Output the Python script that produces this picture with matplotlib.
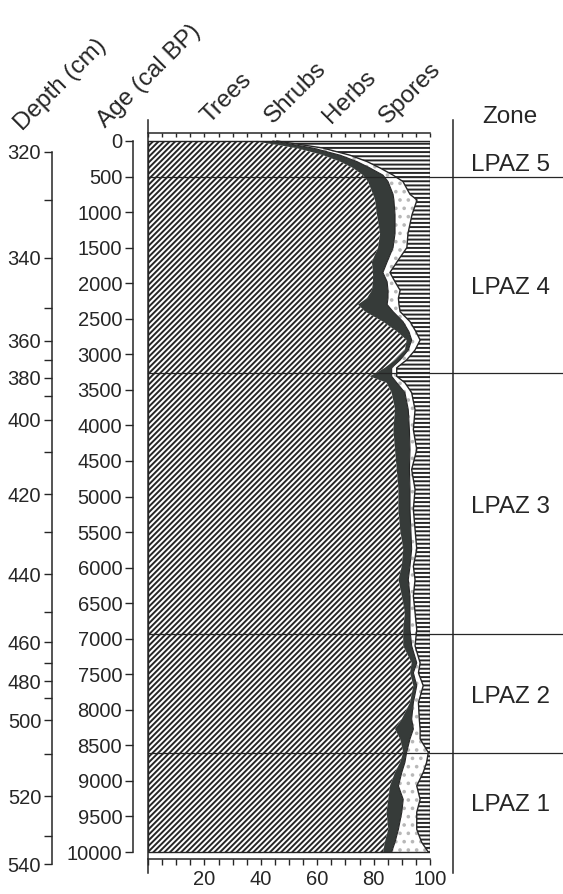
import numpy as np
import matplotlib.pyplot as plt
from matplotlib.patches import Rectangle

#%% Figure settings
plt.rcParams['font.family'] = ['Liberation Sans', 'DejaVu Sans']
plt.rcParams['hatch.linewidth'] = 1.4
plt.rcParams['hatch.color'] = '#262626'
INK = '#262626'

#%% Data
age_bp = [0, 100, 200, 290, 380, 480, 570, 750, 830, 1040,
          1300, 1500, 1700, 1850, 1980, 2100, 2210, 2300, 2400, 2540,
          2680, 2800, 2940, 3080, 3190, 3310, 3400, 3540, 3780, 4060,
          4340, 4620, 4900, 5180, 5460, 5740, 5980, 6170, 6400, 6630,
          6870, 7100, 7340, 7480, 7660, 7900, 8130, 8270, 8410, 8600,
          8740, 8880, 9070, 9260, 9440, 9680, 9860, 10000]
trees = [37.2, 52.7, 62.1, 68.1, 72.7, 76.2, 78.0, 79.8, 80.5, 81.2,
         82.3, 81.6, 79.4, 79.8, 79.8, 79.4, 77.7, 74.5, 77.0, 83.3,
         88.3, 91.7, 91.1, 87.6, 84.0, 78.7, 84.6, 86.4, 87.6, 87.0,
         87.6, 88.2, 88.8, 88.8, 89.4, 90.5, 90.0, 88.8, 90.0, 91.1,
         90.5, 90.5, 93.5, 92.9, 94.1, 92.9, 90.0, 87.6, 89.4, 90.5,
         89.4, 87.6, 85.8, 85.2, 84.6, 85.2, 84.0, 83.4]
shrubs = [7.1, 5.8, 6.0, 6.0, 6.0, 7.1, 7.1, 7.1, 6.7, 6.4,
          5.3, 5.3, 5.4, 3.5, 5.0, 5.7, 7.4, 10.3, 9.9, 7.1,
          4.2, 1.8, 1.2, 1.8, 2.4, 7.7, 3.6, 4.7, 4.7, 5.7,
          5.3, 4.5, 4.1, 4.1, 3.8, 3.0, 2.9, 3.5, 2.9, 1.8,
          2.4, 3.0, 1.8, 1.2, 1.2, 1.2, 3.5, 6.5, 3.5, 1.2,
          1.7, 2.4, 3.0, 5.3, 5.4, 3.6, 3.6, 3.0]
herbs = [1.4, 3.6, 3.5, 3.6, 3.6, 3.6, 5.3, 6.0, 8.2, 6.0,
         4.6, 4.9, 3.5, 2.5, 2.8, 4.3, 3.7, 4.2, 2.5, 2.5,
         2.5, 3.0, 2.4, 2.3, 1.8, 1.8, 2.9, 2.4, 2.4, 1.4,
         2.4, 0.8, 1.8, 1.2, 1.5, 1.8, 1.2, 2.4, 1.2, 1.8,
         2.4, 1.2, 1.2, 1.8, 2.3, 1.8, 2.7, 2.4, 3.6, 7.7,
         7.7, 7.6, 6.5, 6.0, 5.3, 6.5, 9.4, 13.0]

# age-depth model
depth_cm = list(range(320, 541, 10))
depth_age = [155, 830, 1645, 2345, 2810, 3075, 3330, 3580, 3920, 4380,
             4970, 5505, 6095, 6630, 7050, 7345, 7600, 7835, 8145, 8625,
             9215, 9775, 10170]

zone_names = ['LPAZ 5', 'LPAZ 4', 'LPAZ 3', 'LPAZ 2', 'LPAZ 1']
zone_bounds = [500, 3270, 6930, 8610]
zone_label_age = [340, 2070, 5150, 7820, 9340]

group_names = ['Trees', 'Shrubs', 'Herbs', 'Spores']

#%% Cumulative curves
age = np.array(age_bp)
c1 = np.array(trees)
c2 = c1 + np.array(shrubs)
c3 = c2 + np.array(herbs)

#%% Layout helpers (pixels)
W, H = 563, 894
TOP, BOT = 120, 873
Y0 = -295
Y1 = 10295
PCT = (430 - 148) / 100.0       # pixels per percent in the main panel

def box(x0, x1):
    return [x0 / W, 1 - BOT / H, (x1 - x0) / W, (BOT - TOP) / H]

def px(x, y):
    return x / W, 1 - y / H

fig = plt.figure(figsize=(W / 100, H / 100), dpi=100)

def side_axis(x):
    a = fig.add_axes(box(x, x + 1))
    a.set_ylim(Y1, Y0)
    a.patch.set_visible(False)
    for s in ['right', 'top', 'bottom']:
        a.spines[s].set_visible(False)
    a.spines['left'].set_color(INK)
    a.spines['left'].set_linewidth(1.1)
    a.set_xticks([])
    a.tick_params(axis='y', which='both', length=5.8, width=1.0, pad=2,
                  labelsize=14.5, colors=INK)
    return a

#%% Depth axis
ax_d = side_axis(52)
ax_d.spines['left'].set_bounds(depth_age[0], depth_age[-1])
ax_d.set_yticks(depth_age[::2])
ax_d.set_yticklabels([str(d) for d in depth_cm[::2]])
ax_d.set_yticks(depth_age[1::2], minor=True)

#%% Age axis
ax_a = side_axis(133)
ax_a.spines['left'].set_bounds(0, 10000)
ax_a.set_yticks(range(0, 10001, 500))

#%% Zone column
ax_z = side_axis(453)
ax_z.set_yticks([])

#%% Main pollen panel
ax = fig.add_axes(box(148, 430))
ax.set_xlim(0, 100)
ax.set_ylim(Y1, Y0)
ax.patch.set_visible(False)

ax.fill_betweenx(age, 0, c1, facecolor='white', edgecolor=INK,
                 hatch='//////', linewidth=0)
ax.fill_betweenx(age, c1, c2, facecolor='#363b39', linewidth=0)
ax.fill_betweenx(age, c2, c3, facecolor='white', edgecolor='#b8b8b8',
                 hatch='..', linewidth=0)
ax.fill_betweenx(age, c3, 100, facecolor='white', edgecolor=INK,
                 hatch='----', linewidth=0)
ax.plot(c2, age, color=INK, lw=0.8)
ax.plot(c3, age, color=INK, lw=1.0)
ax.add_patch(Rectangle((0, 0), 100, 10000, fill=False, ec=INK, lw=1.0))

x_end = (W - 148) / PCT
for b in zone_bounds:
    ax.plot([0, x_end], [b, b], color=INK, lw=0.9, clip_on=False)

x_lab = (510 - 148) / PCT
for name, a in zip(zone_names, zone_label_age):
    ax.text(x_lab, a, name, fontsize=17.5, ha='center', va='center',
            color=INK, clip_on=False)

ax.spines['right'].set_visible(False)
ax.spines['left'].set_color(INK)
ax.spines['left'].set_linewidth(1.1)
ax.spines['top'].set_position(('data', -112))
ax.spines['bottom'].set_position(('data', 10100))
for s in ['top', 'bottom']:
    ax.spines[s].set_color(INK)
    ax.spines[s].set_linewidth(1.1)
ax.set_yticks([])
ax.set_xticks(range(0, 101, 5))
ax.set_xticklabels(['' if (v % 20 or v == 0) else str(v) for v in range(0, 101, 5)])
ax.tick_params(axis='x', which='both', top=True, bottom=True, direction='out',
               length=4.5, width=1.0, labelsize=14.5, colors=INK, pad=3)
for t in ax.xaxis.get_major_ticks():
    t.tick2line.set_marker(3)   # top ticks point down into the panel
    t.tick2line.set_markersize(3.0)

#%% Headers
heads = [('Depth (cm)', 22, 131), ('Age (cal BP)', 105, 128),
         (group_names[0], 209, 124), (group_names[1], 273, 124),
         (group_names[2], 331, 124), (group_names[3], 387, 124)]
for txt, x, y in heads:
    fig.text(*px(x, y), txt, rotation=45, rotation_mode='anchor',
             ha='left', va='baseline', fontsize=17.5, color=INK)
fig.text(*px(510, 117), 'Zone', ha='center', va='center', fontsize=17.5,
         color=INK)

fig.savefig('out.png', dpi=100)
